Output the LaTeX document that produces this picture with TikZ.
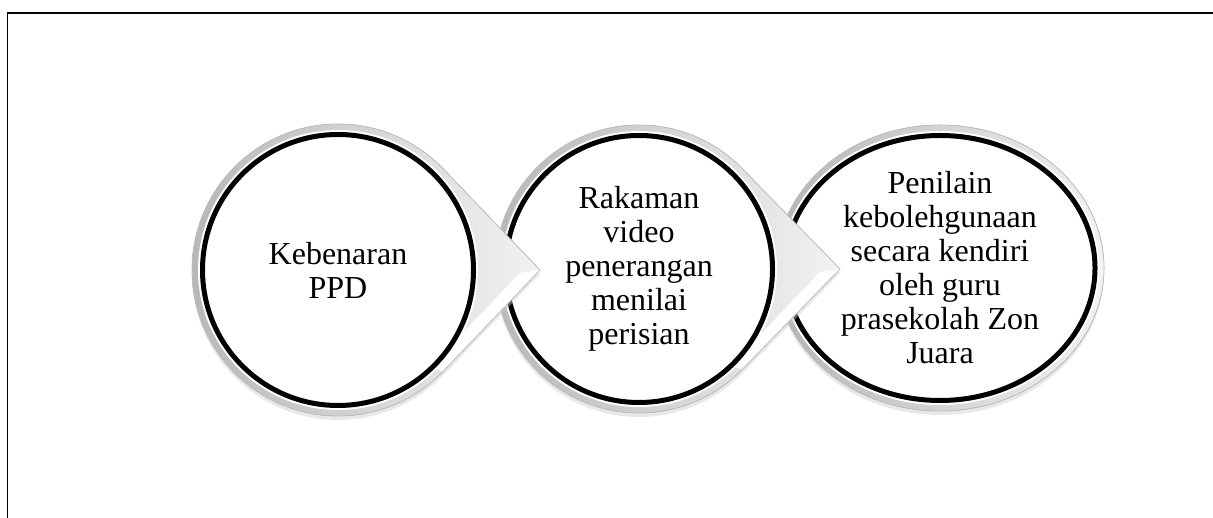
\documentclass[tikz,border=0pt]{standalone}
\usepackage{fontspec}
\setmainfont{Liberation Serif}
\usetikzlibrary{shapes.geometric}

\begin{document}
\begin{tikzpicture}[x=0.5pt, y=0.5pt,
        bulatan/.style = {circle, draw, line width=2.5pt, fill=white,
                          preaction={draw=white, line width=4.5pt}},
        bujur/.style = {ellipse, draw, line width=2.5pt, fill=white,
                        preaction={draw=white, line width=4.5pt}},
        rim/.style = {left color=gray!58, right color=gray!10},
        garis/.style = {draw=gray!50, line width=0.4pt},
        bayang/.style = {fill=gray!40, opacity=0.45},
        teks/.style = {align=center, font=\fontsize{16}{17}\selectfont}]
    \useasboundingbox (0,0) rectangle (1213,518);
    % bingkai
    \draw[line width=0.75pt] (7.5,0) |- (1213,505);

    \coordinate (p1) at (338,248);
    \coordinate (p2) at (639,249);
    \coordinate (p3) at (940,250);

    % bulatan ketiga
    \fill[bayang] (p3) ++(0,-4) ellipse [x radius=164, y radius=143];
    \fill[rim] (p3) ellipse [x radius=164, y radius=143];
    \draw[garis] (p3) ellipse [x radius=164, y radius=143];
    \node[bujur, minimum width=155pt, minimum height=132.5pt] (penilaian) at (p3) {};
    \node[teks] (penilaian-teks) at (penilaian.center)
        {Penilain\\kebolehgunaan\\secara kendiri\\oleh guru\\prasekolah Zon\\Juara};

    % titisan kedua
    \fill[bayang] (p2) ++(0,-4) ++(44:144) arc[start angle=44, end angle=316, radius=144]
        -- ++(97.4,100) -- cycle;
    \fill[rim] (p2) ++(44:144) arc[start angle=44, end angle=316, radius=144]
        -- ++(97.4,100) -- cycle;
    \fill[white] (p2) ++(201,0) -- ++(-20,-3) -- ++(-90,-94) -- ++(12.6,-3) -- cycle;
    \draw[garis] (p2) ++(44:144) arc[start angle=44, end angle=316, radius=144]
        -- ++(97.4,100) -- cycle;
    \node[bulatan, minimum size=133.5pt, teks] (rakaman) at (p2)
        {Rakaman\\video\\penerangan\\menilai\\perisian};

    % titisan pertama
    \fill[bayang] (p1) ++(0,-4) ++(44:146) arc[start angle=44, end angle=316, radius=146]
        -- ++(97,101.4) -- cycle;
    \fill[rim] (p1) ++(44:146) arc[start angle=44, end angle=316, radius=146]
        -- ++(97,101.4) -- cycle;
    \fill[white] (p1) ++(202,0) -- ++(-20,-3) -- ++(-90,-94) -- ++(13,-4.4) -- cycle;
    \draw[garis] (p1) ++(44:146) arc[start angle=44, end angle=316, radius=146]
        -- ++(97,101.4) -- cycle;
    \node[bulatan, minimum size=135.5pt, teks] (kebenaran) at (p1) {Kebenaran\\PPD};
\end{tikzpicture}
\end{document}
